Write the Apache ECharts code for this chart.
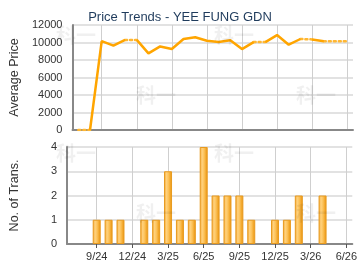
<!DOCTYPE html>
<html>
<head>
<meta charset="utf-8">
<script src="https://cdn.jsdelivr.net/npm/echarts@6/dist/echarts.min.js"></script>
<style>
html, body { margin: 0; padding: 0; background: #fff; }
#chart { width: 360px; height: 270px; }
</style>
</head>
<body>
<div id="chart"></div>
<script>
// months from 7/24 to 6/26
var months = ['7/24', '8/24', '9/24', '10/24', '11/24', '12/24', '1/25', '2/25', '3/25', '4/25', '5/25', '6/25',
    '7/25', '8/25', '9/25', '10/25', '11/25', '12/25', '1/26', '2/26', '3/26', '4/26', '5/26', '6/26'];
// average price per month
var avgPrice = [0, 0, 10150, 9650, 10300, 10300, 8750, 9550, 9250, 10400, 10600, 10200,
    10050, 10250, 9250, 10050, 10050, 10850, 9750, 10400, 10350, 10150, 10150, 10150];
// number of transactions per month
var transCount = [0, 0, 1, 1, 1, 0, 1, 1, 3, 1, 1, 4,
    2, 2, 2, 1, 0, 1, 1, 2, 0, 2, 0, 0];
var priceTicks = [0, 12000, 2000];
var countTicks = [0, 4, 1];

var chart = echarts.init(document.getElementById('chart'));

// segment into a month with no transactions is drawn dotted
var lineSeries = [];
var runStart = 0;
for (var i = 1; i < months.length; i++) {
    var dotted = transCount[i] === 0;
    var nextDotted = i + 1 < months.length ? transCount[i + 1] === 0 : null;
    if (nextDotted !== dotted) {
        var data = [];
        for (var k = 0; k < months.length; k++) {
            data.push(k >= runStart && k <= i ? avgPrice[k] : null);
        }
        lineSeries.push({
            type: 'line',
            xAxisIndex: 0,
            yAxisIndex: 0,
            data: data,
            symbol: 'none',
            silent: true,
            z: dotted ? 2 : 3,
            lineStyle: dotted
                ? { color: '#FFB733', width: 2.5, type: [2, 3], cap: 'round' }
                : { color: '#FFA500', width: 2.5 }
        });
        runStart = i;
    }
}

var fontFam = 'Arial, "Liberation Sans", sans-serif';
var labelTxt = { color: '#333', fontSize: 11, fontFamily: fontFam };
var isQuarter = function (idx) { return idx % 3 === 2; };

function xAxisCfg(grid, showLabel) {
    return {
        type: 'category',
        gridIndex: grid,
        data: months,
        boundaryGap: true,
        axisLine: { lineStyle: { color: '#888', width: 2 } },
        axisTick: { show: showLabel, alignWithLabel: true, interval: isQuarter, length: 4, lineStyle: { color: '#555' } },
        axisLabel: Object.assign({ show: showLabel, interval: isQuarter, margin: 7 }, labelTxt),
        splitLine: { show: true, alignWithLabel: true, interval: isQuarter, lineStyle: { color: '#cfcfcf', width: 1 } }
    };
}

function yAxisCfg(grid, ticks, name, gap) {
    return {
        type: 'value',
        gridIndex: grid,
        min: ticks[0],
        max: ticks[1],
        interval: ticks[2],
        name: name,
        nameLocation: 'middle',
        nameGap: gap,
        nameTextStyle: { color: '#333', fontSize: 12.5, fontFamily: fontFam },
        axisLine: { show: true, lineStyle: { color: '#888', width: 2 } },
        axisTick: { show: false },
        axisLabel: Object.assign({ margin: 10, formatter: function (v) { return String(v); } }, labelTxt),
        splitLine: { lineStyle: { color: '#e2e2e2', width: 2 } }
    };
}

var wmStyle = { text: '科一', fill: 'rgba(0,0,0,0.06)', fontSize: 20, fontWeight: 'bold', fontFamily: '"Noto Sans CJK SC"' };
var wmPos = [[56, 25], [214, 25], [136, 85], [296, 85], [56, 143], [214, 143], [136, 203], [296, 203]];
var watermarks = wmPos.map(function (p) {
    return { type: 'text', left: p[0], top: p[1], z: 100, silent: true, style: Object.assign({}, wmStyle) };
});

var option = {
    animation: false,
    backgroundColor: '#fff',
    title: {
        text: 'Price Trends - YEE FUNG GDN',
        left: 'center',
        top: 6,
        textStyle: { color: '#1f3b5c', fontSize: 13, fontWeight: 'normal', fontFamily: fontFam }
    },
    graphic: watermarks,
    grid: [
        { left: 65, right: 7, top: 25, height: 105 },
        { left: 65, right: 7, top: 147, height: 97 }
    ],
    xAxis: [xAxisCfg(0, false), xAxisCfg(1, true)],
    yAxis: [yAxisCfg(0, priceTicks, 'Average Price', 46), yAxisCfg(1, countTicks, 'No. of Trans.', 46)],
    series: lineSeries.concat([{
        type: 'bar',
        xAxisIndex: 1,
        yAxisIndex: 1,
        data: transCount.map(function (v) { return v === 0 ? '-' : v; }),
        barWidth: 8,
        silent: true,
        itemStyle: {
            color: new echarts.graphic.LinearGradient(0, 0, 1, 0, [
                { offset: 0, color: '#F0A22C' },
                { offset: 0.3, color: '#FFD27E' },
                { offset: 0.55, color: '#FCC25A' },
                { offset: 0.8, color: '#F2A628' },
                { offset: 1, color: '#E8931A' }
            ]),
            borderColor: '#E89A1E',
            borderWidth: 1
        }
    }])
};
chart.setOption(option);
</script>
</body>
</html>
